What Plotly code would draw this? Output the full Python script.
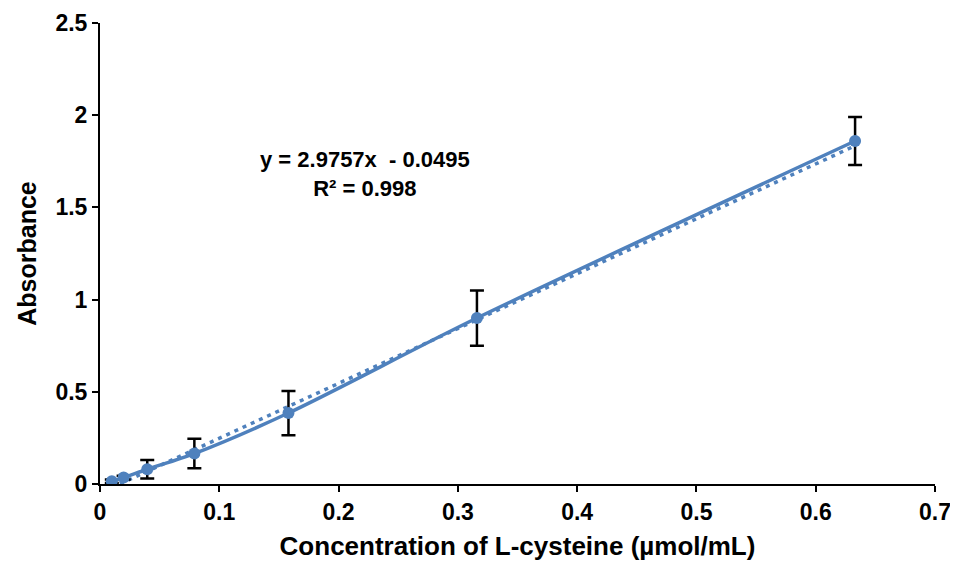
import plotly.graph_objects as go

conc = [0.0099, 0.0198, 0.0396, 0.0791, 0.158, 0.316, 0.633]
absorbance = [0.015, 0.035, 0.08, 0.165, 0.385, 0.90, 1.86]
err = [0.01, 0.01, 0.05, 0.08, 0.12, 0.15, 0.13]
slope = 2.9757
intercept = -0.0495
x_ticks = [0, 0.1, 0.2, 0.3, 0.4, 0.5, 0.6, 0.7]
y_ticks = [0, 0.5, 1, 1.5, 2, 2.5]

blue = "#4F81BD"
font = "Liberation Sans, Arial, sans-serif"

trend_x = [min(conc), max(conc)]
trend_y = [slope * v + intercept for v in trend_x]

fig = go.Figure()
fig.add_trace(go.Scatter(
    x=trend_x, y=trend_y, mode="lines",
    line=dict(color=blue, width=3.5, dash="4px,5px"),
    hoverinfo="skip", showlegend=False))
fig.add_trace(go.Scatter(
    x=conc, y=absorbance, mode="lines+markers",
    line=dict(color=blue, width=3.5, shape="spline", smoothing=0.8),
    marker=dict(color=blue, size=12),
    error_y=dict(type="data", array=err, color="black", thickness=2.5, width=7),
    showlegend=False))

fig.add_annotation(
    x=0.222, y=1.68, xref="x", yref="y",
    text="<b>y = 2.9757x  - 0.0495<br>R² = 0.998</b>",
    showarrow=False, align="center",
    font=dict(family=font, size=22, color="black"))

axis_common = dict(
    showline=True, linecolor="black", linewidth=2,
    ticks="outside", tickcolor="black", tickwidth=2, ticklen=6,
    showgrid=False, zeroline=False, automargin=False,
    tickfont=dict(family=font, size=23, color="black", weight="bold"))

fig.update_xaxes(
    range=[0, 0.7], tickvals=x_ticks, ticktext=[("%g" % v) for v in x_ticks],
    title=dict(text="<b>Concentration of L-cysteine (µmol/mL)</b>",
               font=dict(family=font, size=26, color="black"), standoff=13),
    **axis_common)
fig.update_yaxes(
    range=[0, 2.5], tickvals=y_ticks, ticktext=[("%g" % v) for v in y_ticks],
    title=dict(text="<b>Absorbance</b>",
               font=dict(family=font, size=25, color="black"), standoff=12),
    **axis_common)

fig.update_layout(
    width=958, height=565,
    margin=dict(l=92, r=31, t=15, b=89),
    plot_bgcolor="white", paper_bgcolor="white",
    font=dict(family=font, size=20, color="black"),
)

fig.write_html("out.html")
